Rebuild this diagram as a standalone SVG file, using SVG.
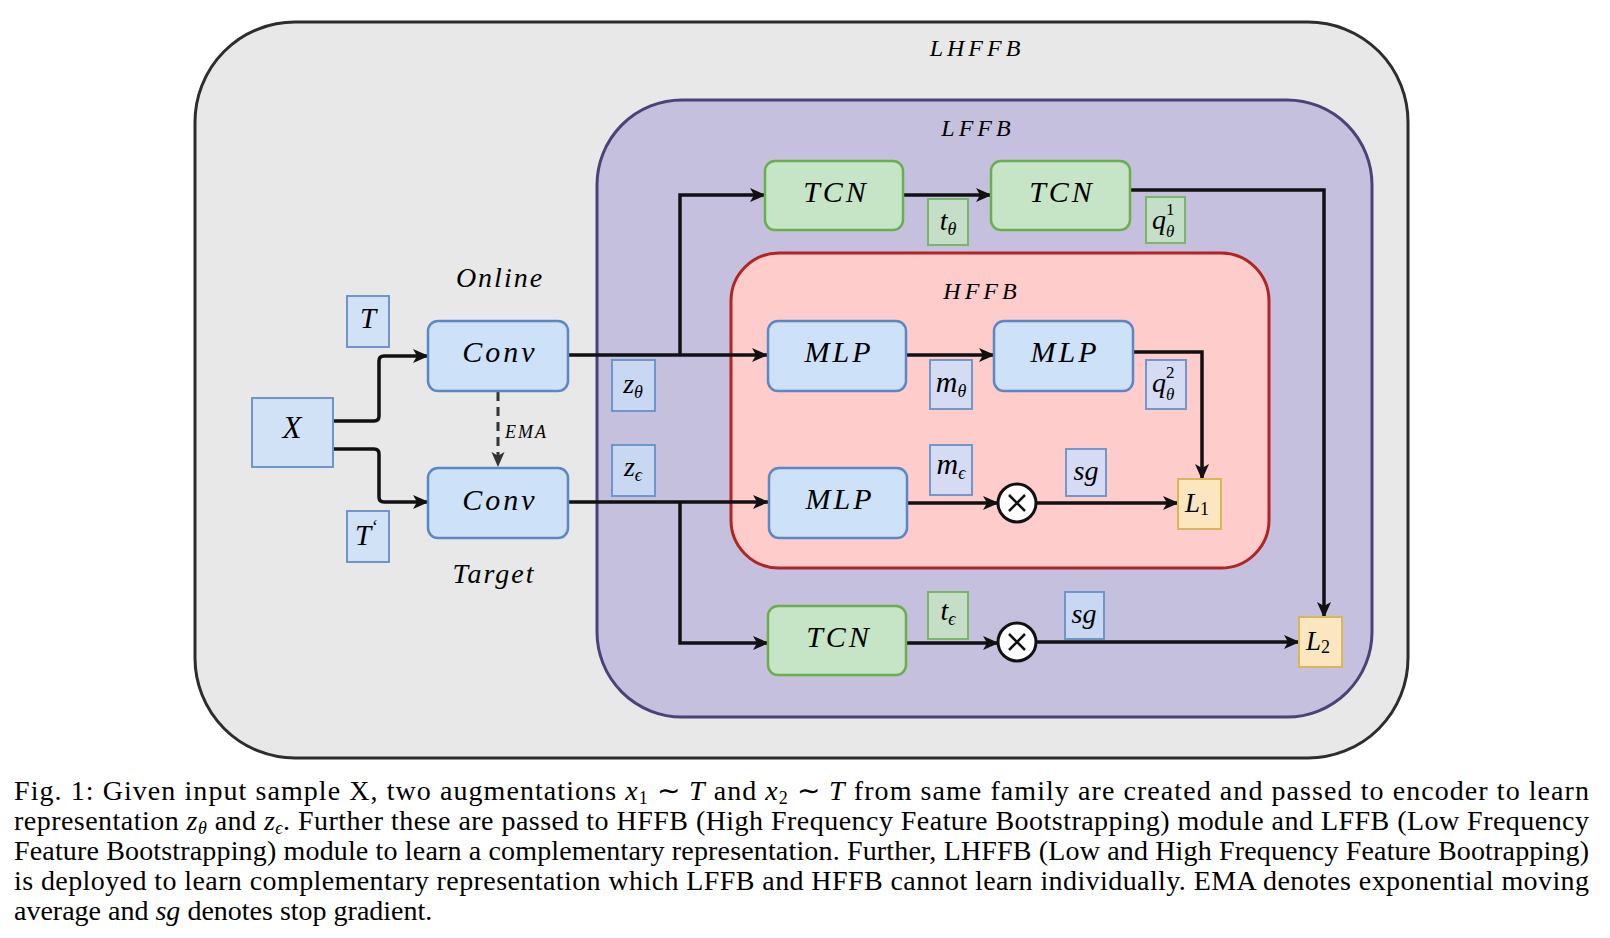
<svg xmlns="http://www.w3.org/2000/svg" width="1610" height="938" viewBox="0 0 1610 938">
<defs>
<marker id="arr" markerUnits="userSpaceOnUse" markerWidth="16" markerHeight="14" viewBox="0 0 16 14" refX="15" refY="7" orient="auto"><path d="M0,0 L16,7 L0,14 L4,7 z" fill="#111"/></marker>
<marker id="arrd" markerUnits="userSpaceOnUse" markerWidth="15" markerHeight="14" viewBox="0 0 16 14" refX="15" refY="7" orient="auto"><path d="M0,0 L16,7 L0,14 L4,7 z" fill="#333"/></marker>
</defs>
<style>
.m{font-family:"Liberation Serif","DejaVu Serif",serif;font-style:italic;fill:#000}
.u{font-style:normal}
.nt{font-size:30px;letter-spacing:3px;text-anchor:middle}
.lb{font-size:28px;text-anchor:middle}
.ttl{font-size:24px;letter-spacing:4px;text-anchor:middle}
.blue{fill:#cde1f9;stroke:#5b88c5;stroke-width:2.5}
.green{fill:#c6e5c7;stroke:#6aae4d;stroke-width:2.5}
.bsq{fill:#d2e2f6;stroke:#6e96cb;stroke-width:2}
.gsq{fill:#c4dec8;stroke:#7ab66a;stroke-width:2}
.psq{fill:#d5dbf3;stroke:#7197cd;stroke-width:2}
.zsq{fill:#c8d8f2;stroke:#6e96cb;stroke-width:2}
.ysq{fill:#fbe6bf;stroke:#d8b65a;stroke-width:2}
.ln{fill:none;stroke:#111;stroke-width:3.5;marker-end:url(#arr)}
.cap{font-family:"Liberation Serif","Times New Roman",serif;font-size:28px;fill:#000}
.it{font-style:italic}
</style>
<rect width="1610" height="938" fill="#fff"/>

<g id="LHFFB">
<rect x="195" y="22" width="1213" height="736" rx="100" ry="100" fill="#e8e8e8" stroke="#2b2d2f" stroke-width="3"/>
<text class="m ttl" x="977" y="56">LHFFB</text>
</g>
<g id="LFFB">
<rect x="597" y="100" width="775" height="617" rx="85" ry="85" fill="#c5c0dd" stroke="#4a4378" stroke-width="3"/>
<text class="m ttl" x="978" y="136">LFFB</text>
</g>
<g id="HFFB">
<rect x="731" y="253" width="538" height="315" rx="48" ry="48" fill="#ffcccc" stroke="#b22424" stroke-width="3"/>
<text class="m ttl" x="982" y="299">HFFB</text>
</g>

<g id="labels-online-target">
<text class="m" x="500" y="287" font-size="28" letter-spacing="2" text-anchor="middle">Online</text>
<text class="m" x="494" y="583" font-size="28" letter-spacing="2" text-anchor="middle">Target</text>
</g>

<g id="connectors">
<path class="ln" d="M333,421 H374 Q379,421 379,416 V361 Q379,356 384,356 H428"/>
<path class="ln" d="M333,449 H374 Q379,449 379,454 V497 Q379,502 384,502 H428"/>
<path d="M498,392 V466" fill="none" stroke="#333" stroke-width="3" stroke-dasharray="9,6" marker-end="url(#arrd)"/>
<path class="ln" d="M568,355 H767"/>
<path class="ln" d="M680,355 V195 H765"/>
<path class="ln" d="M568,502 H768"/>
<path class="ln" d="M680,502 V643 H768"/>
<path class="ln" d="M903,195 H991"/>
<path class="ln" d="M1130,190 H1324 V617"/>
<path class="ln" d="M906,355 H994"/>
<path class="ln" d="M1133,352 H1202 V479"/>
<path class="ln" d="M907,503 H998"/>
<path class="ln" d="M1036,503 H1178"/>
<path class="ln" d="M906,643 H998"/>
<path class="ln" d="M1036,642 H1299"/>
<text class="m" x="505" y="438" font-size="18" letter-spacing="2">EMA</text>
</g>

<g id="X">
<rect class="bsq" x="252" y="398" width="81" height="69"/>
<text class="m" x="292" y="438" font-size="31" text-anchor="middle">X</text>
</g>
<g id="T">
<rect class="bsq" x="347" y="296" width="42" height="51"/>
<text class="m" x="368" y="328" font-size="29" text-anchor="middle">T</text>
</g>
<g id="T2">
<rect class="bsq" x="347" y="511" width="42" height="51"/>
<text class="m" x="366" y="545" font-size="29" text-anchor="middle">T<tspan font-size="18" dy="-12">‘</tspan></text>
</g>
<g id="Conv-online">
<rect class="blue" x="428" y="321" width="140" height="70" rx="10"/>
<text class="m nt" x="500" y="362" letter-spacing="2">Conv</text>
</g>
<g id="Conv-target">
<rect class="blue" x="428" y="468" width="140" height="70" rx="10"/>
<text class="m nt" x="500" y="510" letter-spacing="2">Conv</text>
</g>

<g id="z-theta">
<rect class="zsq" x="612" y="360" width="43" height="51"/>
<text class="m lb" x="633" y="393">z<tspan font-size="18" dy="5">θ</tspan></text>
</g>
<g id="z-eps">
<rect class="zsq" x="612" y="445" width="43" height="51"/>
<text class="m lb" x="633" y="476">z<tspan font-size="18" dy="5">ϵ</tspan></text>
</g>

<g id="TCN1">
<rect class="green" x="765" y="161" width="138" height="69" rx="10"/>
<text class="m nt" x="836" y="202">TCN</text>
</g>
<g id="TCN2">
<rect class="green" x="991" y="161" width="139" height="69" rx="10"/>
<text class="m nt" x="1062" y="202">TCN</text>
</g>
<g id="t-theta">
<rect class="gsq" x="928" y="199" width="40" height="46"/>
<text class="m lb" x="948" y="230">t<tspan font-size="18" dy="5">θ</tspan></text>
</g>
<g id="q1">
<rect class="gsq" x="1146" y="197" width="39" height="46"/>
<text class="m" x="1152" y="229" font-size="28">q</text>
<text class="m u" x="1166" y="215" font-size="17">1</text>
<text class="m" x="1166" y="237" font-size="17">θ</text>
</g>

<g id="MLP1">
<rect class="blue" x="768" y="321" width="138" height="70" rx="10"/>
<text class="m nt" x="839" y="362">MLP</text>
</g>
<g id="MLP2">
<rect class="blue" x="994" y="321" width="139" height="70" rx="10"/>
<text class="m nt" x="1065" y="362">MLP</text>
</g>
<g id="m-theta">
<rect class="psq" x="930" y="360" width="42" height="49"/>
<text class="m lb" x="951" y="392"><tspan font-size="30">m</tspan><tspan font-size="18" dy="5">θ</tspan></text>
</g>
<g id="q2">
<rect class="psq" x="1146" y="360" width="40" height="49"/>
<text class="m" x="1152" y="392" font-size="28">q</text>
<text class="m u" x="1166" y="378" font-size="17">2</text>
<text class="m" x="1166" y="400" font-size="17">θ</text>
</g>

<g id="MLP3">
<rect class="blue" x="769" y="468" width="138" height="70" rx="10"/>
<text class="m nt" x="840" y="509">MLP</text>
</g>
<g id="m-eps">
<rect class="psq" x="930" y="445" width="42" height="50"/>
<text class="m lb" x="951" y="474"><tspan font-size="30">m</tspan><tspan font-size="18" dy="5">ϵ</tspan></text>
</g>
<g id="otimes1">
<circle cx="1017" cy="503" r="19" fill="#fff" stroke="#111" stroke-width="3"/>
<path d="M1009,495 L1025,511 M1025,495 L1009,511" stroke="#111" stroke-width="2.5"/>
</g>
<g id="sg1">
<rect class="psq" x="1066" y="449" width="40" height="47"/>
<text class="m lb" x="1086" y="480">sg</text>
</g>
<g id="L1">
<rect class="ysq" x="1178" y="479" width="43" height="50"/>
<text class="m" x="1197" y="512" font-size="27" text-anchor="middle">L<tspan class="u" font-size="18" dy="3">1</tspan></text>
</g>

<g id="TCN3">
<rect class="green" x="768" y="606" width="138" height="69" rx="10"/>
<text class="m nt" x="839" y="647">TCN</text>
</g>
<g id="t-eps">
<rect class="gsq" x="928" y="592" width="40" height="47"/>
<text class="m lb" x="948" y="620">t<tspan font-size="18" dy="5">ϵ</tspan></text>
</g>
<g id="otimes2">
<circle cx="1017" cy="642" r="19" fill="#fff" stroke="#111" stroke-width="3"/>
<path d="M1009,634 L1025,650 M1025,634 L1009,650" stroke="#111" stroke-width="2.5"/>
</g>
<g id="sg2">
<rect class="zsq" x="1065" y="592" width="39" height="47"/>
<text class="m lb" x="1084" y="623">sg</text>
</g>
<g id="L2">
<rect class="ysq" x="1299" y="617" width="43" height="50"/>
<text class="m" x="1318" y="650" font-size="27" text-anchor="middle">L<tspan class="u" font-size="18" dy="3">2</tspan></text>
</g>

<g id="caption">
<text class="cap" x="14" y="800" textLength="1575" lengthAdjust="spacing">Fig. 1: Given input sample X, two augmentations <tspan class="it">x</tspan><tspan font-size="18" dy="4">1</tspan><tspan dy="-4"> ∼ </tspan><tspan class="it">T</tspan> and <tspan class="it">x</tspan><tspan font-size="18" dy="4">2</tspan><tspan dy="-4"> ∼ </tspan><tspan class="it">T</tspan> from same family are created and passed to encoder to learn</text>
<text class="cap" x="14" y="830" textLength="1575" lengthAdjust="spacing">representation <tspan class="it">z</tspan><tspan class="it" font-size="18" dy="4">θ</tspan><tspan dy="-4"> and </tspan><tspan class="it">z</tspan><tspan class="it" font-size="18" dy="4">ϵ</tspan><tspan dy="-4">. Further these are passed to HFFB (High Frequency Feature Bootstrapping) module and LFFB (Low Frequency</tspan></text>
<text class="cap" x="14" y="860" textLength="1575" lengthAdjust="spacing">Feature Bootstrapping) module to learn a complementary representation. Further, LHFFB (Low and High Frequency Feature Bootrapping)</text>
<text class="cap" x="14" y="890" textLength="1575" lengthAdjust="spacing">is deployed to learn complementary representation which LFFB and HFFB cannot learn individually. EMA denotes exponential moving</text>
<text class="cap" x="14" y="920">average and <tspan class="it">sg</tspan> denotes stop gradient.</text>
</g>
</svg>
